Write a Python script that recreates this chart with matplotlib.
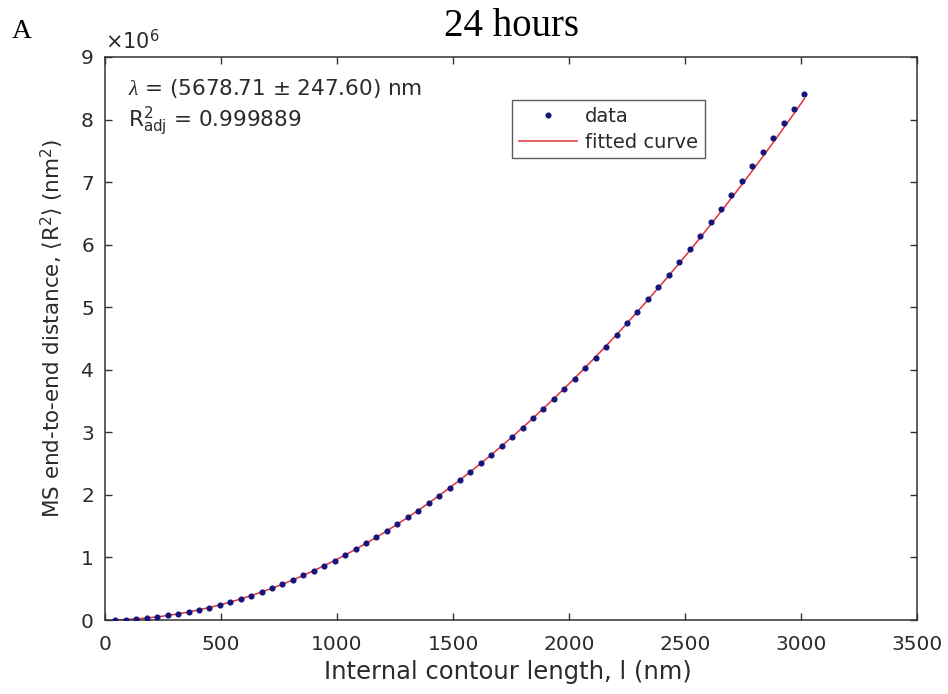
import matplotlib
matplotlib.use("Agg")
import matplotlib.pyplot as plt
from matplotlib.lines import Line2D

# ---- data ----
contour_nm = [45, 90, 135, 180, 225, 270, 315, 360, 405, 450,
              495, 540, 585, 630, 675, 720, 765, 810, 855, 900,
              945, 990, 1035, 1080, 1125, 1170, 1215, 1260, 1305, 1350,
              1395, 1440, 1485, 1530, 1575, 1620, 1665, 1710, 1755, 1800,
              1845, 1890, 1935, 1980, 2025, 2070, 2115, 2160, 2205, 2250,
              2295, 2340, 2385, 2430, 2475, 2520, 2565, 2610, 2655, 2700,
              2745, 2790, 2835, 2880, 2925, 2970, 3015]

data_r2_e6 = [0.002, 0.007, 0.017, 0.031, 0.050, 0.073, 0.099, 0.128, 0.161, 0.199,
              0.242, 0.288, 0.337, 0.389, 0.446, 0.507, 0.573, 0.642, 0.714, 0.788,
              0.867, 0.951, 1.041, 1.131, 1.224, 1.322, 1.426, 1.532, 1.641, 1.750,
              1.866, 1.988, 2.114, 2.241, 2.368, 2.502, 2.640, 2.784, 2.929, 3.073,
              3.222, 3.376, 3.528, 3.688, 3.852, 4.022, 4.196, 4.372, 4.555, 4.741,
              4.931, 5.125, 5.322, 5.522, 5.728, 5.936, 6.146, 6.361, 6.578, 6.798,
              7.022, 7.250, 7.478, 7.710, 7.940, 8.172, 8.410]

fit_r2_e6 = [0.002, 0.008, 0.018, 0.032, 0.050, 0.072, 0.098, 0.128, 0.162, 0.200,
             0.241, 0.287, 0.336, 0.390, 0.447, 0.508, 0.572, 0.641, 0.713, 0.789,
             0.869, 0.952, 1.039, 1.130, 1.225, 1.323, 1.425, 1.530, 1.640, 1.752,
             1.869, 1.989, 2.112, 2.239, 2.370, 2.504, 2.641, 2.783, 2.927, 3.075,
             3.227, 3.382, 3.540, 3.702, 3.867, 4.036, 4.208, 4.383, 4.561, 4.743,
             4.929, 5.117, 5.309, 5.504, 5.703, 5.904, 6.109, 6.318, 6.529, 6.743,
             6.961, 7.182, 7.406, 7.633, 7.864, 8.097, 8.334]

x_ticks = [0, 500, 1000, 1500, 2000, 2500, 3000, 3500]
y_ticks = [0, 1, 2, 3, 4, 5, 6, 7, 8, 9]

plt.rcParams['font.family'] = ['DejaVu Sans']
plt.rcParams['mathtext.fontset'] = 'custom'
plt.rcParams['mathtext.rm'] = 'DejaVu Sans'
plt.rcParams['mathtext.it'] = 'Liberation Serif:italic'
plt.rcParams['mathtext.bf'] = 'DejaVu Sans:bold'

txt_col = '#2b2b2b'
ax_col = '#333333'

fig = plt.figure(figsize=(9.48, 6.94), dpi=100)
ax = fig.add_axes([105/948, 1-620/694, (917-105)/948, (620-57)/694])

ax.plot(contour_nm, data_r2_e6, linestyle='none', marker='o', markersize=3.4,
        color='#14147a', zorder=3)
ax.plot(contour_nm, fit_r2_e6, color='#e0303a', linewidth=1.1, zorder=2)

ax.set_xlim(0, 3500)
ax.set_ylim(0, 9)
ax.set_xticks(x_ticks)
ax.set_yticks(y_ticks)
ax.tick_params(direction='in', length=5, width=1, colors=ax_col,
               labelcolor=txt_col, labelsize=14.5, top=True, right=True)
ax.tick_params(axis='x', pad=11)
ax.tick_params(axis='y', pad=8)
for s in ax.spines.values():
    s.set_color(ax_col)
    s.set_linewidth(1.1)

ax.set_xlabel('Internal contour length, l (nm)', fontsize=17.5, color=txt_col,
              va='center', ha='center')
ax.xaxis.set_label_coords((508-105)/812, (620-672)/563)
ax.set_ylabel(r'MS end-to-end distance, $\langle\mathrm{R}^2\rangle$ (nm$^2$)',
              fontsize=15.5, color=txt_col, va='center', ha='center')
ax.yaxis.set_label_coords((52-105)/812, (620-328)/563)

ax.text(0.0, 1.008, r'$\times10^6$', transform=ax.transAxes, fontsize=15,
        color=txt_col, ha='left', va='bottom')

ax.text((128-105)/812, (620-88)/563, r'$\lambda$ = (5678.71 $\pm$ 247.60) nm',
        transform=ax.transAxes, fontsize=15.5, color=txt_col, ha='left', va='center')
ax.text((128-105)/812, (620-121)/563, r'$\mathrm{R}^2_{\mathrm{adj}}$ = 0.999889',
        transform=ax.transAxes, fontsize=15.5, color=txt_col, ha='left', va='center')

handles = [Line2D([], [], linestyle='none', marker='o', markersize=3.4, color='#14147a'),
           Line2D([], [], color='#e0303a', linewidth=1.1)]
leg = ax.legend(handles, ['data', 'fitted curve'], loc='upper left',
                bbox_to_anchor=((512-105)/812, (620-100)/563),
                fontsize=14, frameon=True, fancybox=False, edgecolor=ax_col,
                borderpad=0.35, handlelength=3.0, handletextpad=0.4,
                labelspacing=0.35, borderaxespad=0)
leg.get_frame().set_linewidth(1.0)
for t in leg.get_texts():
    t.set_color(txt_col)

fig.text(511/948, 1-27/694, '24 hours', fontsize=28, family='Liberation Serif',
         ha='center', va='center', color='black')
fig.text(12/948, 1-31/694, 'A', fontsize=20, family='Liberation Serif',
         ha='left', va='center', color='black')

fig.savefig('out.png', dpi=100)
